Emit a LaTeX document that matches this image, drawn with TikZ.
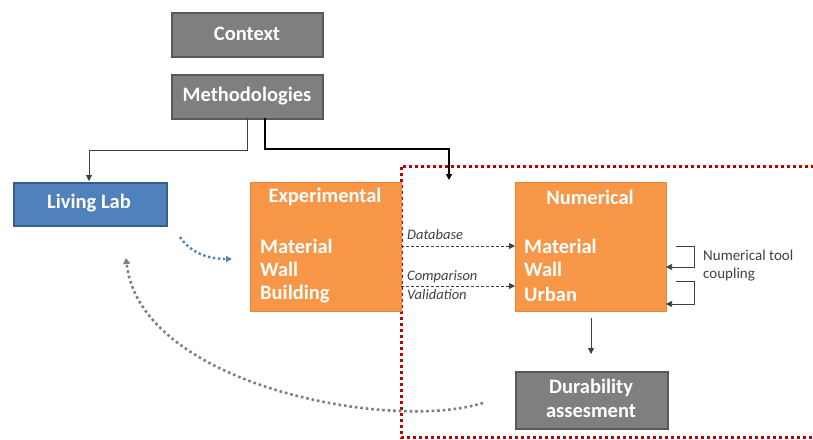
\documentclass[tikz,border=0pt]{standalone}
\usepackage{fontspec}
\setmainfont{Carlito}
\usetikzlibrary{arrows.meta}
\definecolor{boxgray}{HTML}{7F7F7F}
\definecolor{boxgrayline}{HTML}{595959}
\definecolor{boxorange}{HTML}{F79646}
\definecolor{boxorangeline}{HTML}{E8863C}
\definecolor{boxblue}{HTML}{4F81BD}
\definecolor{boxblueline}{HTML}{385D8A}
\definecolor{framered}{HTML}{C00000}
\definecolor{txtgray}{HTML}{404040}
\begin{document}
\begin{tikzpicture}[x=1pt,y=-1pt,
  graybox/.style={draw=boxgrayline, fill=boxgray, line width=1.5pt, anchor=north west, inner sep=0pt},
  orangebox/.style={draw=boxorangeline, fill=boxorange, line width=0.8pt, anchor=north west, inner sep=0pt, minimum width=151pt, minimum height=129pt},
  bluebox/.style={draw=boxblueline, fill=boxblue, line width=1.5pt, anchor=north west, inner sep=0pt},
  boxtext/.style={text=white, font=\fontsize{20.5}{24}\selectfont\bfseries, inner sep=0pt},
  itemtext/.style={text=white, font=\fontsize{20.5}{24}\selectfont\bfseries, inner sep=0pt, anchor=west},
  labeltext/.style={text=txtgray, font=\fontsize{14.5}{17}\selectfont\itshape, inner sep=0pt, anchor=west},
  notetext/.style={text=txtgray, font=\fontsize{15}{18}\selectfont, inner sep=0pt, anchor=west, align=left},
  conn/.style={draw=black, line width=0.8pt, -{Triangle[length=6pt,width=6pt]}},
  dashconn/.style={draw=txtgray, line width=0.8pt, dash pattern=on 3pt off 2pt, -{Triangle[length=6pt,width=6pt]}},
  ]
\useasboundingbox (0,0) rectangle (813,439);

% red dotted frame
\begin{scope}
\clip (0,0) rectangle (813,439);
\draw[framered, line width=3pt, dash pattern=on 3pt off 3pt] (820,166) -- (401,166) -- (401,437) -- (820,437);
\end{scope}

% boxes
\node[graybox, minimum width=151pt, minimum height=44pt] (context) at (171,12) {};
\node[boxtext] (contextt) at (247,34) {Context};
\node[graybox, minimum width=151pt, minimum height=44pt] (meth) at (171,74) {};
\node[boxtext] (metht) at (247,96) {Methodologies};
\node[bluebox, minimum width=153pt, minimum height=43pt] (living) at (13,182) {};
\node[boxtext] (livingt) at (89,203) {Living Lab};

\node[orangebox] (exp) at (250,182) {};
\node[boxtext] (expt) at (325,197) {Experimental};
\node[itemtext] (exp1) at (260,246) {Material};
\node[itemtext] (exp2) at (260,269) {Wall};
\node[itemtext] (exp3) at (260,294) {Building};

\node[orangebox] (num) at (515,182) {};
\node[boxtext] (numt) at (590,197) {Numerical};
\node[itemtext] (num1) at (524,246) {Material};
\node[itemtext] (num2) at (524,269) {Wall};
\node[itemtext] (num3) at (524,294) {Urban};

\node[graybox, minimum width=152pt, minimum height=57pt] (dur) at (515,371) {};
\node[boxtext] (durt1) at (591,388) {Durability};
\node[boxtext] (durt2) at (591,411) {assesment};

% connectors from methodologies
\coordinate (m1) at (247,118);
\coordinate (m2) at (265,118);
\coordinate (livin) at (89,181);
\coordinate (numin) at (449,180);
\draw[conn, draw=txtgray] (m1) -- (247,150) -- (89,150) -- (livin);
\draw[conn, line width=1.3pt] (m2) -- (265,149) -- (449,149) -- (numin);

% dashed arrows
\coordinate (d1) at (401,246);
\coordinate (d2) at (401,286);
\draw[dashconn] (d1) -- (d1 -| num.west);
\draw[dashconn] (d2) -- (d2 -| num.west);
\node[labeltext] (lbl1) at (407,235) {Database};
\node[labeltext] (lbl2) at (407,277) {Comparison};
\node[labeltext] (lbl3) at (407,295) {Validation};

% coupling arrows
\coordinate (c1) at (676,246);
\coordinate (c2) at (676,281);
\draw[conn, line width=0.7pt, draw=txtgray] (c1) -- (694,246) -- (694,267) -- (666,267);
\draw[conn, line width=0.7pt, draw=txtgray] (c2) -- (694,281) -- (694,304) -- (666,304);
\node[notetext] (coup) at (703,266) {Numerical tool\\coupling};

% numerical to durability
\coordinate (nd) at (591,318);
\draw[conn, draw=txtgray] (nd) -- (591,354);

% curved dotted arrows
\coordinate (b0) at (180,237);
\coordinate (b1) at (232,259);
\draw[boxblue, line width=2.4pt, dash pattern=on 2.4pt off 2.6pt, -{Triangle[length=6pt,width=6pt]}] (b0) .. controls (192,255) and (212,259) .. (b1);
\coordinate (g0) at (483,403);
\coordinate (g1) at (126,258);
\draw[boxgray, line width=2.6pt, dash pattern=on 2.6pt off 2.9pt, -{Triangle[length=6pt,width=7pt]}] (g0) .. controls (390,432) and (140,385) .. (g1);
\end{tikzpicture}
\end{document}
